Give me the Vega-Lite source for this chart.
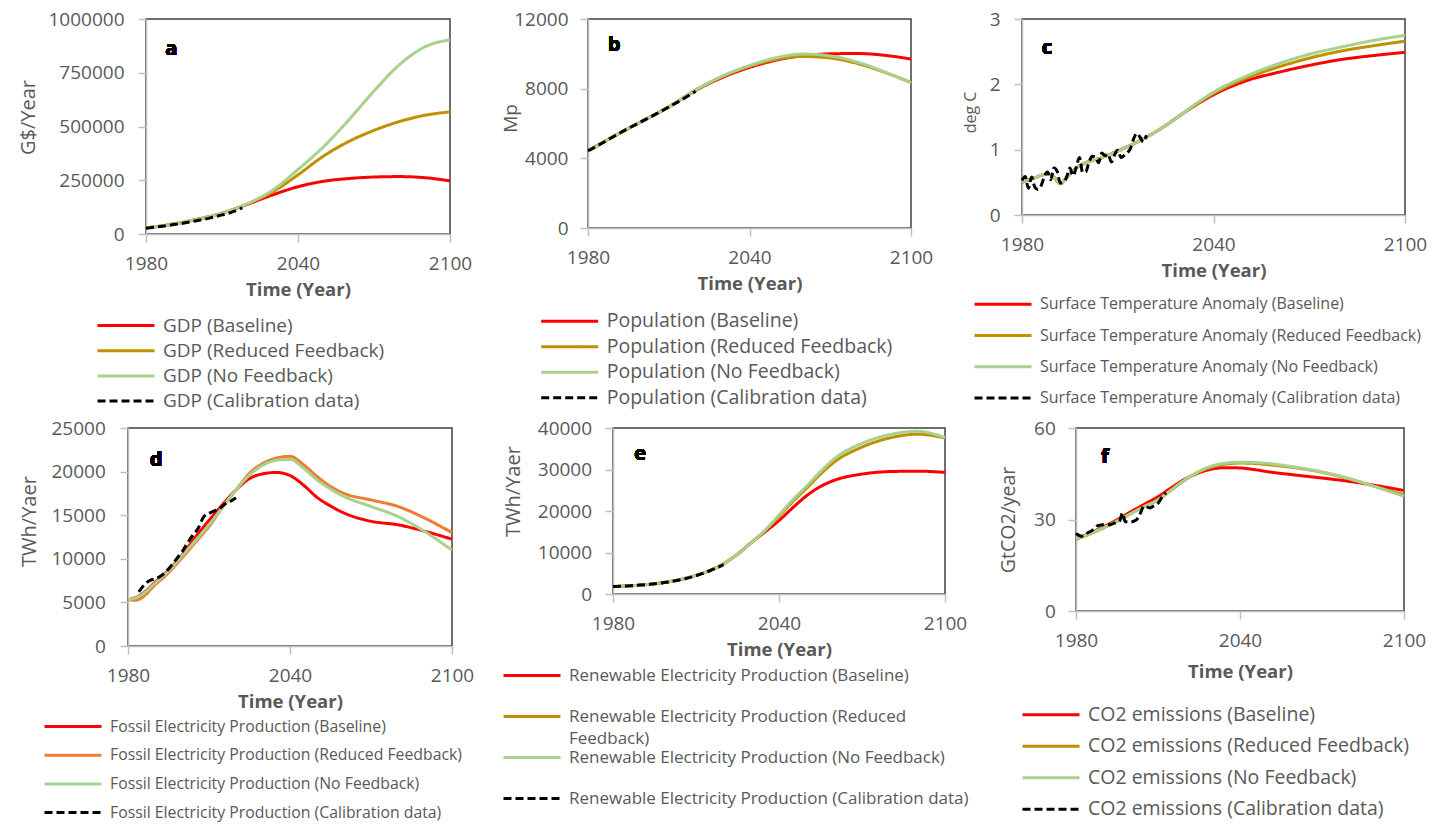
{
"$schema": "https://vega.github.io/schema/vega-lite/v6.json",
"padding": {"left": 17, "top": 9, "right": 5, "bottom": 5},
"background": "white",
"spacing": 5,
"config": {
 "font": "Open Sans",
 "view": {"stroke": "#404040", "strokeWidth": 1.5},
 "axis": {"labelFont": "Open Sans", "labelFontSize": 19, "labelColor": "#595959", "titleFont": "Open Sans", "titleColor": "#595959", "domainColor": "#bfbfbf", "domainWidth": 1.5, "tickColor": "#bfbfbf", "tickWidth": 1.5, "tickSize": 8, "grid": false, "labelFlush": false, "labelOverlap": false},
 "axisX": {"titleFontWeight": "bold", "titleFontSize": 18.5, "labelPadding": 12, "titlePadding": 7},
 "axisY": {"titleFontWeight": "normal"},
 "legend": {"orient": "none", "symbolType": "M-3,0H3", "symbolSize": 361, "symbolStrokeWidth": 3, "labelFont": "Open Sans", "labelColor": "#595959", "labelLimit": 600, "padding": 0, "labelOffset": 26}
},
"datasets": {
 "gdp": [
  {"s":"Baseline","year":1980,"v":28000},{"s":"Baseline","year":1990,"v":45000},{"s":"Baseline","year":2000,"v":68000},{"s":"Baseline","year":2010,"v":97000},{"s":"Baseline","year":2020,"v":138000},{"s":"Baseline","year":2030,"v":182000},{"s":"Baseline","year":2040,"v":220000},{"s":"Baseline","year":2050,"v":245000},{"s":"Baseline","year":2060,"v":258000},{"s":"Baseline","year":2070,"v":265000},{"s":"Baseline","year":2080,"v":267000},{"s":"Baseline","year":2090,"v":262000},{"s":"Baseline","year":2100,"v":247000},
  {"s":"Reduced Feedback","year":1980,"v":28000},{"s":"Reduced Feedback","year":1990,"v":45000},{"s":"Reduced Feedback","year":2000,"v":68000},{"s":"Reduced Feedback","year":2010,"v":97000},{"s":"Reduced Feedback","year":2020,"v":140000},{"s":"Reduced Feedback","year":2030,"v":196000},{"s":"Reduced Feedback","year":2040,"v":275000},{"s":"Reduced Feedback","year":2050,"v":362000},{"s":"Reduced Feedback","year":2060,"v":430000},{"s":"Reduced Feedback","year":2070,"v":482000},{"s":"Reduced Feedback","year":2080,"v":523000},{"s":"Reduced Feedback","year":2090,"v":552000},{"s":"Reduced Feedback","year":2100,"v":568000},
  {"s":"No Feedback","year":1980,"v":28000},{"s":"No Feedback","year":1990,"v":45000},{"s":"No Feedback","year":2000,"v":68000},{"s":"No Feedback","year":2010,"v":97000},{"s":"No Feedback","year":2020,"v":141000},{"s":"No Feedback","year":2030,"v":204000},{"s":"No Feedback","year":2040,"v":300000},{"s":"No Feedback","year":2050,"v":405000},{"s":"No Feedback","year":2060,"v":530000},{"s":"No Feedback","year":2070,"v":665000},{"s":"No Feedback","year":2080,"v":787000},{"s":"No Feedback","year":2090,"v":870000},{"s":"No Feedback","year":2100,"v":903000},
  {"s":"Calibration data","year":1980,"v":27000},{"s":"Calibration data","year":1985,"v":34000},{"s":"Calibration data","year":1990,"v":42000},{"s":"Calibration data","year":1995,"v":51000},{"s":"Calibration data","year":2000,"v":62000},{"s":"Calibration data","year":2005,"v":74000},{"s":"Calibration data","year":2010,"v":89000},{"s":"Calibration data","year":2015,"v":106000},{"s":"Calibration data","year":2018,"v":122000}
 ],
 "pop": [
  {"s":"Baseline","year":1980,"v":4430},{"s":"Baseline","year":1990,"v":5300},{"s":"Baseline","year":2000,"v":6120},{"s":"Baseline","year":2010,"v":6950},{"s":"Baseline","year":2020,"v":7900},{"s":"Baseline","year":2030,"v":8650},{"s":"Baseline","year":2040,"v":9220},{"s":"Baseline","year":2050,"v":9640},{"s":"Baseline","year":2060,"v":9900},{"s":"Baseline","year":2070,"v":10000},{"s":"Baseline","year":2080,"v":10020},{"s":"Baseline","year":2090,"v":9920},{"s":"Baseline","year":2100,"v":9700},
  {"s":"Reduced Feedback","year":1980,"v":4430},{"s":"Reduced Feedback","year":1990,"v":5300},{"s":"Reduced Feedback","year":2000,"v":6120},{"s":"Reduced Feedback","year":2010,"v":6950},{"s":"Reduced Feedback","year":2020,"v":7920},{"s":"Reduced Feedback","year":2030,"v":8700},{"s":"Reduced Feedback","year":2040,"v":9280},{"s":"Reduced Feedback","year":2050,"v":9680},{"s":"Reduced Feedback","year":2060,"v":9850},{"s":"Reduced Feedback","year":2070,"v":9760},{"s":"Reduced Feedback","year":2080,"v":9450},{"s":"Reduced Feedback","year":2090,"v":8950},{"s":"Reduced Feedback","year":2100,"v":8350},
  {"s":"No Feedback","year":1980,"v":4430},{"s":"No Feedback","year":1990,"v":5300},{"s":"No Feedback","year":2000,"v":6120},{"s":"No Feedback","year":2010,"v":6950},{"s":"No Feedback","year":2020,"v":7930},{"s":"No Feedback","year":2030,"v":8730},{"s":"No Feedback","year":2040,"v":9330},{"s":"No Feedback","year":2050,"v":9780},{"s":"No Feedback","year":2060,"v":9990},{"s":"No Feedback","year":2070,"v":9880},{"s":"No Feedback","year":2080,"v":9530},{"s":"No Feedback","year":2090,"v":8970},{"s":"No Feedback","year":2100,"v":8330},
  {"s":"Calibration data","year":1980,"v":4430},{"s":"Calibration data","year":1985,"v":4850},{"s":"Calibration data","year":1990,"v":5300},{"s":"Calibration data","year":1995,"v":5720},{"s":"Calibration data","year":2000,"v":6120},{"s":"Calibration data","year":2005,"v":6520},{"s":"Calibration data","year":2010,"v":6950},{"s":"Calibration data","year":2015,"v":7380},{"s":"Calibration data","year":2020,"v":7850}
 ],
 "temp": [
  {"s":"Baseline","year":1980,"v":0.5},{"s":"Baseline","year":1984,"v":0.57},{"s":"Baseline","year":1988,"v":0.63},{"s":"Baseline","year":1990,"v":0.58},{"s":"Baseline","year":1992,"v":0.48},{"s":"Baseline","year":1994,"v":0.58},{"s":"Baseline","year":1997,"v":0.72},{"s":"Baseline","year":2000,"v":0.8},{"s":"Baseline","year":2005,"v":0.88},{"s":"Baseline","year":2010,"v":0.98},{"s":"Baseline","year":2015,"v":1.09},{"s":"Baseline","year":2020,"v":1.22},{"s":"Baseline","year":2025,"v":1.37},{"s":"Baseline","year":2030,"v":1.54},{"s":"Baseline","year":2035,"v":1.7},{"s":"Baseline","year":2040,"v":1.84},{"s":"Baseline","year":2050,"v":2.05},{"s":"Baseline","year":2060,"v":2.18},{"s":"Baseline","year":2070,"v":2.29},{"s":"Baseline","year":2080,"v":2.38},{"s":"Baseline","year":2090,"v":2.44},{"s":"Baseline","year":2100,"v":2.49},
  {"s":"Reduced Feedback","year":1980,"v":0.5},{"s":"Reduced Feedback","year":1984,"v":0.57},{"s":"Reduced Feedback","year":1988,"v":0.63},{"s":"Reduced Feedback","year":1990,"v":0.58},{"s":"Reduced Feedback","year":1992,"v":0.48},{"s":"Reduced Feedback","year":1994,"v":0.58},{"s":"Reduced Feedback","year":1997,"v":0.72},{"s":"Reduced Feedback","year":2000,"v":0.8},{"s":"Reduced Feedback","year":2005,"v":0.88},{"s":"Reduced Feedback","year":2010,"v":0.98},{"s":"Reduced Feedback","year":2015,"v":1.09},{"s":"Reduced Feedback","year":2020,"v":1.22},{"s":"Reduced Feedback","year":2025,"v":1.37},{"s":"Reduced Feedback","year":2030,"v":1.54},{"s":"Reduced Feedback","year":2035,"v":1.71},{"s":"Reduced Feedback","year":2040,"v":1.86},{"s":"Reduced Feedback","year":2050,"v":2.09},{"s":"Reduced Feedback","year":2060,"v":2.26},{"s":"Reduced Feedback","year":2070,"v":2.4},{"s":"Reduced Feedback","year":2080,"v":2.51},{"s":"Reduced Feedback","year":2090,"v":2.59},{"s":"Reduced Feedback","year":2100,"v":2.66},
  {"s":"No Feedback","year":1980,"v":0.5},{"s":"No Feedback","year":1984,"v":0.57},{"s":"No Feedback","year":1988,"v":0.63},{"s":"No Feedback","year":1990,"v":0.58},{"s":"No Feedback","year":1992,"v":0.48},{"s":"No Feedback","year":1994,"v":0.58},{"s":"No Feedback","year":1997,"v":0.72},{"s":"No Feedback","year":2000,"v":0.8},{"s":"No Feedback","year":2005,"v":0.88},{"s":"No Feedback","year":2010,"v":0.98},{"s":"No Feedback","year":2015,"v":1.09},{"s":"No Feedback","year":2020,"v":1.22},{"s":"No Feedback","year":2025,"v":1.37},{"s":"No Feedback","year":2030,"v":1.54},{"s":"No Feedback","year":2035,"v":1.72},{"s":"No Feedback","year":2040,"v":1.88},{"s":"No Feedback","year":2050,"v":2.12},{"s":"No Feedback","year":2060,"v":2.31},{"s":"No Feedback","year":2070,"v":2.46},{"s":"No Feedback","year":2080,"v":2.57},{"s":"No Feedback","year":2090,"v":2.67},{"s":"No Feedback","year":2100,"v":2.75},
  {"s":"Calibration data","year":1980,"v":0.53},{"s":"Calibration data","year":1981,"v":0.59},{"s":"Calibration data","year":1982,"v":0.41},{"s":"Calibration data","year":1983,"v":0.58},{"s":"Calibration data","year":1984,"v":0.43},{"s":"Calibration data","year":1985,"v":0.39},{"s":"Calibration data","year":1986,"v":0.45},{"s":"Calibration data","year":1987,"v":0.59},{"s":"Calibration data","year":1988,"v":0.66},{"s":"Calibration data","year":1989,"v":0.54},{"s":"Calibration data","year":1990,"v":0.72},{"s":"Calibration data","year":1991,"v":0.67},{"s":"Calibration data","year":1992,"v":0.49},{"s":"Calibration data","year":1993,"v":0.5},{"s":"Calibration data","year":1994,"v":0.58},{"s":"Calibration data","year":1995,"v":0.72},{"s":"Calibration data","year":1996,"v":0.6},{"s":"Calibration data","year":1997,"v":0.73},{"s":"Calibration data","year":1998,"v":0.88},{"s":"Calibration data","year":1999,"v":0.65},{"s":"Calibration data","year":2000,"v":0.66},{"s":"Calibration data","year":2001,"v":0.81},{"s":"Calibration data","year":2002,"v":0.9},{"s":"Calibration data","year":2003,"v":0.89},{"s":"Calibration data","year":2004,"v":0.8},{"s":"Calibration data","year":2005,"v":0.95},{"s":"Calibration data","year":2006,"v":0.91},{"s":"Calibration data","year":2007,"v":0.93},{"s":"Calibration data","year":2008,"v":0.81},{"s":"Calibration data","year":2009,"v":0.92},{"s":"Calibration data","year":2010,"v":0.99},{"s":"Calibration data","year":2011,"v":0.88},{"s":"Calibration data","year":2012,"v":0.91},{"s":"Calibration data","year":2013,"v":0.95},{"s":"Calibration data","year":2014,"v":1.02},{"s":"Calibration data","year":2015,"v":1.17},{"s":"Calibration data","year":2016,"v":1.25},{"s":"Calibration data","year":2017,"v":1.19},{"s":"Calibration data","year":2018,"v":1.12},{"s":"Calibration data","year":2019,"v":1.22}
 ],
 "fossil": [
  {"s":"Baseline","year":1980,"v":5300},{"s":"Baseline","year":1985,"v":5900},{"s":"Baseline","year":1990,"v":7300},{"s":"Baseline","year":1995,"v":8700},{"s":"Baseline","year":2000,"v":10400},{"s":"Baseline","year":2005,"v":12500},{"s":"Baseline","year":2010,"v":14400},{"s":"Baseline","year":2015,"v":16200},{"s":"Baseline","year":2020,"v":17900},{"s":"Baseline","year":2025,"v":19200},{"s":"Baseline","year":2030,"v":19750},{"s":"Baseline","year":2035,"v":19900},{"s":"Baseline","year":2040,"v":19550},{"s":"Baseline","year":2045,"v":18450},{"s":"Baseline","year":2050,"v":17050},{"s":"Baseline","year":2055,"v":16050},{"s":"Baseline","year":2060,"v":15250},{"s":"Baseline","year":2070,"v":14300},{"s":"Baseline","year":2080,"v":13900},{"s":"Baseline","year":2090,"v":13150},{"s":"Baseline","year":2100,"v":12250},
  {"s":"Reduced Feedback","year":1980,"v":5300},{"s":"Reduced Feedback","year":1983,"v":5250},{"s":"Reduced Feedback","year":1985,"v":5500},{"s":"Reduced Feedback","year":1990,"v":7000},{"s":"Reduced Feedback","year":1995,"v":8400},{"s":"Reduced Feedback","year":2000,"v":10100},{"s":"Reduced Feedback","year":2005,"v":11900},{"s":"Reduced Feedback","year":2010,"v":13700},{"s":"Reduced Feedback","year":2015,"v":15900},{"s":"Reduced Feedback","year":2020,"v":17900},{"s":"Reduced Feedback","year":2025,"v":19800},{"s":"Reduced Feedback","year":2030,"v":20950},{"s":"Reduced Feedback","year":2035,"v":21550},{"s":"Reduced Feedback","year":2040,"v":21750},{"s":"Reduced Feedback","year":2045,"v":20800},{"s":"Reduced Feedback","year":2050,"v":19450},{"s":"Reduced Feedback","year":2055,"v":18300},{"s":"Reduced Feedback","year":2060,"v":17500},{"s":"Reduced Feedback","year":2070,"v":16750},{"s":"Reduced Feedback","year":2080,"v":16000},{"s":"Reduced Feedback","year":2090,"v":14650},{"s":"Reduced Feedback","year":2100,"v":13000},
  {"s":"No Feedback","year":1980,"v":5300},{"s":"No Feedback","year":1985,"v":5850},{"s":"No Feedback","year":1990,"v":7200},{"s":"No Feedback","year":1995,"v":8600},{"s":"No Feedback","year":2000,"v":10300},{"s":"No Feedback","year":2005,"v":12100},{"s":"No Feedback","year":2010,"v":13900},{"s":"No Feedback","year":2015,"v":15900},{"s":"No Feedback","year":2020,"v":17900},{"s":"No Feedback","year":2025,"v":19600},{"s":"No Feedback","year":2030,"v":20750},{"s":"No Feedback","year":2035,"v":21300},{"s":"No Feedback","year":2040,"v":21400},{"s":"No Feedback","year":2045,"v":20400},{"s":"No Feedback","year":2050,"v":19050},{"s":"No Feedback","year":2055,"v":18000},{"s":"No Feedback","year":2060,"v":17150},{"s":"No Feedback","year":2070,"v":16000},{"s":"No Feedback","year":2080,"v":14850},{"s":"No Feedback","year":2090,"v":13100},{"s":"No Feedback","year":2100,"v":11000},
  {"s":"Calibration data","year":1984,"v":6200},{"s":"Calibration data","year":1986,"v":7000},{"s":"Calibration data","year":1988,"v":7500},{"s":"Calibration data","year":1990,"v":7700},{"s":"Calibration data","year":1992,"v":8000},{"s":"Calibration data","year":1994,"v":8500},{"s":"Calibration data","year":1996,"v":9200},{"s":"Calibration data","year":1998,"v":10000},{"s":"Calibration data","year":2000,"v":10800},{"s":"Calibration data","year":2002,"v":11800},{"s":"Calibration data","year":2004,"v":12700},{"s":"Calibration data","year":2006,"v":13500},{"s":"Calibration data","year":2008,"v":14800},{"s":"Calibration data","year":2010,"v":15200},{"s":"Calibration data","year":2012,"v":15500},{"s":"Calibration data","year":2014,"v":15800},{"s":"Calibration data","year":2016,"v":16300},{"s":"Calibration data","year":2018,"v":16600},{"s":"Calibration data","year":2020,"v":17000}
 ],
 "renew": [
  {"s":"Baseline","year":1980,"v":1800},{"s":"Baseline","year":1990,"v":2150},{"s":"Baseline","year":2000,"v":2950},{"s":"Baseline","year":2010,"v":4500},{"s":"Baseline","year":2020,"v":7300},{"s":"Baseline","year":2025,"v":9600},{"s":"Baseline","year":2030,"v":12400},{"s":"Baseline","year":2035,"v":15000},{"s":"Baseline","year":2040,"v":17700},{"s":"Baseline","year":2045,"v":20800},{"s":"Baseline","year":2050,"v":23700},{"s":"Baseline","year":2055,"v":25900},{"s":"Baseline","year":2060,"v":27400},{"s":"Baseline","year":2070,"v":28900},{"s":"Baseline","year":2080,"v":29500},{"s":"Baseline","year":2090,"v":29600},{"s":"Baseline","year":2100,"v":29300},
  {"s":"Reduced Feedback","year":1980,"v":1800},{"s":"Reduced Feedback","year":1990,"v":2150},{"s":"Reduced Feedback","year":2000,"v":2950},{"s":"Reduced Feedback","year":2010,"v":4500},{"s":"Reduced Feedback","year":2020,"v":7300},{"s":"Reduced Feedback","year":2025,"v":9600},{"s":"Reduced Feedback","year":2030,"v":12400},{"s":"Reduced Feedback","year":2035,"v":15300},{"s":"Reduced Feedback","year":2040,"v":18700},{"s":"Reduced Feedback","year":2045,"v":22300},{"s":"Reduced Feedback","year":2050,"v":25500},{"s":"Reduced Feedback","year":2055,"v":28900},{"s":"Reduced Feedback","year":2060,"v":31800},{"s":"Reduced Feedback","year":2070,"v":35400},{"s":"Reduced Feedback","year":2080,"v":37600},{"s":"Reduced Feedback","year":2090,"v":38500},{"s":"Reduced Feedback","year":2100,"v":37600},
  {"s":"No Feedback","year":1980,"v":1800},{"s":"No Feedback","year":1990,"v":2150},{"s":"No Feedback","year":2000,"v":2950},{"s":"No Feedback","year":2010,"v":4500},{"s":"No Feedback","year":2020,"v":7300},{"s":"No Feedback","year":2025,"v":9600},{"s":"No Feedback","year":2030,"v":12400},{"s":"No Feedback","year":2035,"v":15400},{"s":"No Feedback","year":2040,"v":19000},{"s":"No Feedback","year":2045,"v":22700},{"s":"No Feedback","year":2050,"v":26000},{"s":"No Feedback","year":2055,"v":29500},{"s":"No Feedback","year":2060,"v":32600},{"s":"No Feedback","year":2070,"v":36300},{"s":"No Feedback","year":2080,"v":38400},{"s":"No Feedback","year":2090,"v":39200},{"s":"No Feedback","year":2100,"v":37700},
  {"s":"Calibration data","year":1980,"v":1800},{"s":"Calibration data","year":1985,"v":1950},{"s":"Calibration data","year":1990,"v":2150},{"s":"Calibration data","year":1995,"v":2450},{"s":"Calibration data","year":2000,"v":2900},{"s":"Calibration data","year":2005,"v":3500},{"s":"Calibration data","year":2010,"v":4400},{"s":"Calibration data","year":2015,"v":5600},{"s":"Calibration data","year":2020,"v":7100}
 ],
 "co2": [
  {"s":"Baseline","year":1980,"v":23.7},{"s":"Baseline","year":1985,"v":25.5},{"s":"Baseline","year":1990,"v":27.6},{"s":"Baseline","year":1995,"v":29.9},{"s":"Baseline","year":2000,"v":32.5},{"s":"Baseline","year":2005,"v":35.0},{"s":"Baseline","year":2010,"v":37.5},{"s":"Baseline","year":2015,"v":40.5},{"s":"Baseline","year":2020,"v":43.3},{"s":"Baseline","year":2025,"v":45.3},{"s":"Baseline","year":2030,"v":46.6},{"s":"Baseline","year":2035,"v":47.0},{"s":"Baseline","year":2040,"v":46.9},{"s":"Baseline","year":2045,"v":46.4},{"s":"Baseline","year":2050,"v":45.7},{"s":"Baseline","year":2060,"v":44.6},{"s":"Baseline","year":2070,"v":43.6},{"s":"Baseline","year":2080,"v":42.5},{"s":"Baseline","year":2090,"v":41.1},{"s":"Baseline","year":2100,"v":39.5},
  {"s":"Reduced Feedback","year":1980,"v":23.5},{"s":"Reduced Feedback","year":1985,"v":25.2},{"s":"Reduced Feedback","year":1990,"v":27.2},{"s":"Reduced Feedback","year":1995,"v":29.4},{"s":"Reduced Feedback","year":2000,"v":31.9},{"s":"Reduced Feedback","year":2005,"v":34.3},{"s":"Reduced Feedback","year":2010,"v":36.5},{"s":"Reduced Feedback","year":2015,"v":39.8},{"s":"Reduced Feedback","year":2020,"v":43.0},{"s":"Reduced Feedback","year":2025,"v":45.6},{"s":"Reduced Feedback","year":2030,"v":47.3},{"s":"Reduced Feedback","year":2035,"v":48.2},{"s":"Reduced Feedback","year":2040,"v":48.5},{"s":"Reduced Feedback","year":2045,"v":48.4},{"s":"Reduced Feedback","year":2050,"v":48.0},{"s":"Reduced Feedback","year":2060,"v":47.0},{"s":"Reduced Feedback","year":2070,"v":45.5},{"s":"Reduced Feedback","year":2080,"v":43.3},{"s":"Reduced Feedback","year":2090,"v":40.7},{"s":"Reduced Feedback","year":2100,"v":38.1},
  {"s":"No Feedback","year":1980,"v":23.7},{"s":"No Feedback","year":1985,"v":25.3},{"s":"No Feedback","year":1990,"v":27.3},{"s":"No Feedback","year":1995,"v":29.5},{"s":"No Feedback","year":2000,"v":31.9},{"s":"No Feedback","year":2005,"v":34.2},{"s":"No Feedback","year":2010,"v":36.4},{"s":"No Feedback","year":2015,"v":39.8},{"s":"No Feedback","year":2020,"v":43.1},{"s":"No Feedback","year":2025,"v":45.8},{"s":"No Feedback","year":2030,"v":47.6},{"s":"No Feedback","year":2035,"v":48.5},{"s":"No Feedback","year":2040,"v":48.8},{"s":"No Feedback","year":2045,"v":48.7},{"s":"No Feedback","year":2050,"v":48.4},{"s":"No Feedback","year":2060,"v":47.2},{"s":"No Feedback","year":2070,"v":45.6},{"s":"No Feedback","year":2080,"v":43.4},{"s":"No Feedback","year":2090,"v":40.6},{"s":"No Feedback","year":2100,"v":37.6},
  {"s":"Calibration data","year":1980,"v":25.4},{"s":"Calibration data","year":1982,"v":24.5},{"s":"Calibration data","year":1984,"v":25.5},{"s":"Calibration data","year":1986,"v":26.5},{"s":"Calibration data","year":1988,"v":28.0},{"s":"Calibration data","year":1990,"v":28.3},{"s":"Calibration data","year":1992,"v":28.3},{"s":"Calibration data","year":1994,"v":28.8},{"s":"Calibration data","year":1996,"v":29.6},{"s":"Calibration data","year":1997,"v":32.1},{"s":"Calibration data","year":1998,"v":29.3},{"s":"Calibration data","year":2000,"v":29.2},{"s":"Calibration data","year":2002,"v":29.8},{"s":"Calibration data","year":2003,"v":31.0},{"s":"Calibration data","year":2005,"v":34.4},{"s":"Calibration data","year":2007,"v":33.8},{"s":"Calibration data","year":2008,"v":34.2},{"s":"Calibration data","year":2010,"v":35.3},{"s":"Calibration data","year":2012,"v":38.0},{"s":"Calibration data","year":2013,"v":38.7}
 ]
},
"resolve": {"scale": {"color": "independent", "strokeDash": "independent"}, "legend": {"color": "independent", "strokeDash": "independent"}},
"vconcat": [
 {"spacing": 0,
  "resolve": {"scale": {"color": "independent", "strokeDash": "independent"}, "legend": {"color": "independent", "strokeDash": "independent"}},
  "hconcat": [
   {"width": 1, "height": 1, "view": {"stroke": null}, "data": {"values": []}, "mark": "point"},
   {"spacing": 27,
    "resolve": {"scale": {"color": "independent", "strokeDash": "independent"}, "legend": {"color": "independent", "strokeDash": "independent"}},
    "hconcat": [
    {"width": 304, "height": 215, "data": {"name": "gdp"},
     "layer": [
      {"mark": {"type": "line", "interpolate": "monotone", "strokeWidth": 3},
       "encoding": {
        "x": {"field": "year", "type": "quantitative", "scale": {"domain": [1980, 2100], "nice": false, "zero": false}, "axis": {"title": "Time (Year)", "values": [1980, 2040, 2100], "format": "d"}},
        "y": {"field": "v", "type": "quantitative", "scale": {"domain": [0, 1000000], "nice": false}, "axis": {"title": "G$/Year", "values": [0, 250000, 500000, 750000, 1000000], "format": "d", "titleFontSize": 20, "labelPadding": 14, "titlePadding": 9, "titleY": 98}},
        "color": {"field": "s", "type": "nominal", "scale": {"domain": ["Baseline", "Reduced Feedback", "No Feedback", "Calibration data"], "range": ["#ff0000", "#bf9000", "#a9d18e", "#000000"]}, "legend": {"title": null, "legendX": -31, "legendY": 295.5, "labelFontSize": 19, "rowPadding": 4.2, "labelExpr": "'GDP (' + datum.label + ')'"}},
        "strokeDash": {"field": "s", "type": "nominal", "scale": {"domain": ["Baseline", "Reduced Feedback", "No Feedback", "Calibration data"], "range": [[1, 0], [1, 0], [1, 0], [8, 4]]}, "legend": {"title": null, "legendX": -31, "legendY": 295.5, "labelFontSize": 19, "rowPadding": 4.2, "labelExpr": "'GDP (' + datum.label + ')'"}}
       }},
      {"mark": {"type": "text", "text": "a", "fontSize": 20, "fontWeight": "bold", "color": "#000000", "font": "Open Sans"},
       "encoding": {"x": {"datum": 1990}, "y": {"datum": 860000}}}
     ]},
    {"width": 323, "height": 209, "data": {"name": "pop"},
     "layer": [
      {"mark": {"type": "line", "interpolate": "monotone", "strokeWidth": 3},
       "encoding": {
        "x": {"field": "year", "type": "quantitative", "scale": {"domain": [1980, 2100], "nice": false, "zero": false}, "axis": {"title": "Time (Year)", "values": [1980, 2040, 2100], "format": "d"}},
        "y": {"field": "v", "type": "quantitative", "scale": {"domain": [0, 12000], "nice": false}, "axis": {"title": "Mp", "values": [0, 4000, 8000, 12000], "format": "d", "titleFontSize": 19, "labelPadding": 12, "titlePadding": -6.5, "titleY": 99}},
        "color": {"field": "s", "type": "nominal", "scale": {"domain": ["Baseline", "Reduced Feedback", "No Feedback", "Calibration data"], "range": ["#ff0000", "#bf9000", "#a9d18e", "#000000"]}, "legend": {"title": null, "legendX": -29.3, "legendY": 291.2, "labelFontSize": 19.5, "rowPadding": 4.5, "labelExpr": "'Population (' + datum.label + ')'"}},
        "strokeDash": {"field": "s", "type": "nominal", "scale": {"domain": ["Baseline", "Reduced Feedback", "No Feedback", "Calibration data"], "range": [[1, 0], [1, 0], [1, 0], [8, 4]]}, "legend": {"title": null, "legendX": -29.3, "legendY": 291.2, "labelFontSize": 19.5, "rowPadding": 4.5, "labelExpr": "'Population (' + datum.label + ')'"}}
       }},
      {"mark": {"type": "text", "text": "b", "fontSize": 20, "fontWeight": "bold", "color": "#000000", "font": "Open Sans"},
       "encoding": {"x": {"datum": 1989.7}, "y": {"datum": 10500}}}
     ]},
    {"width": 383, "height": 196, "data": {"name": "temp"},
     "layer": [
      {"mark": {"type": "line", "interpolate": "monotone", "strokeWidth": 3},
       "encoding": {
        "x": {"field": "year", "type": "quantitative", "scale": {"domain": [1980, 2100], "nice": false, "zero": false}, "axis": {"title": "Time (Year)", "values": [1980, 2040, 2100], "format": "d"}},
        "y": {"field": "v", "type": "quantitative", "scale": {"domain": [0, 3], "nice": false}, "axis": {"title": "deg C", "values": [0, 1, 2, 3], "format": "d", "titleFontSize": 16, "labelPadding": 14, "titlePadding": 10.4, "titleY": 93}},
        "color": {"field": "s", "type": "nominal", "scale": {"domain": ["Baseline", "Reduced Feedback", "No Feedback", "Calibration data"], "range": ["#ff0000", "#bf9000", "#a9d18e", "#000000"]}, "legend": {"title": null, "legendX": -30, "legendY": 274.2, "labelFontSize": 16, "rowPadding": 12.3, "labelExpr": "'Surface Temperature Anomaly (' + datum.label + ')'"}},
        "strokeDash": {"field": "s", "type": "nominal", "scale": {"domain": ["Baseline", "Reduced Feedback", "No Feedback", "Calibration data"], "range": [[1, 0], [1, 0], [1, 0], [8, 4]]}, "legend": {"title": null, "legendX": -30, "legendY": 274.2, "labelFontSize": 16, "rowPadding": 12.3, "labelExpr": "'Surface Temperature Anomaly (' + datum.label + ')'"}}
       }},
      {"mark": {"type": "text", "text": "c", "fontSize": 20, "fontWeight": "bold", "color": "#000000", "font": "Open Sans"},
       "encoding": {"x": {"datum": 1987.8}, "y": {"datum": 2.56}}}
     ]}
   ]}
  ]},
 {"spacing": 0,
  "resolve": {"scale": {"color": "independent", "strokeDash": "independent"}, "legend": {"color": "independent", "strokeDash": "independent"}},
  "hconcat": [
   {"width": 1, "height": 1, "view": {"stroke": null}, "data": {"values": []}, "mark": "point"},
   {"spacing": 27,
    "resolve": {"scale": {"color": "independent", "strokeDash": "independent"}, "legend": {"color": "independent", "strokeDash": "independent"}},
    "hconcat": [
    {"width": 324, "height": 218, "data": {"name": "fossil"},
     "layer": [
      {"mark": {"type": "line", "interpolate": "monotone", "strokeWidth": 3},
       "encoding": {
        "x": {"field": "year", "type": "quantitative", "scale": {"domain": [1980, 2100], "nice": false, "zero": false}, "axis": {"title": "Time (Year)", "values": [1980, 2040, 2100], "format": "d"}},
        "y": {"field": "v", "type": "quantitative", "scale": {"domain": [0, 25000], "nice": false}, "axis": {"title": "TWh/Yaer", "values": [0, 5000, 10000, 15000, 20000, 25000], "format": "d", "titleFontSize": 20, "labelPadding": 14.7, "titlePadding": 11.5, "titleY": 93}},
        "color": {"field": "s", "type": "nominal", "scale": {"domain": ["Baseline", "Reduced Feedback", "No Feedback", "Calibration data"], "range": ["#ff0000", "#ed7d31", "#a9d18e", "#000000"]}, "legend": {"title": null, "legendX": -66, "legendY": 287.5, "labelFontSize": 15.8, "rowPadding": 9.7, "labelExpr": "'Fossil Electricity Production (' + datum.label + ')'"}},
        "strokeDash": {"field": "s", "type": "nominal", "scale": {"domain": ["Baseline", "Reduced Feedback", "No Feedback", "Calibration data"], "range": [[1, 0], [1, 0], [1, 0], [8, 4]]}, "legend": {"title": null, "legendX": -66, "legendY": 287.5, "labelFontSize": 15.8, "rowPadding": 9.7, "labelExpr": "'Fossil Electricity Production (' + datum.label + ')'"}}
       }},
      {"mark": {"type": "text", "text": "d", "fontSize": 20, "fontWeight": "bold", "color": "#000000", "font": "Open Sans"},
       "encoding": {"x": {"datum": 1990.4}, "y": {"datum": 21330}}}
     ]},
    {"width": 332, "height": 166, "data": {"name": "renew"},
     "layer": [
      {"mark": {"type": "line", "interpolate": "monotone", "strokeWidth": 3},
       "encoding": {
        "x": {"field": "year", "type": "quantitative", "scale": {"domain": [1980, 2100], "nice": false, "zero": false}, "axis": {"title": "Time (Year)", "values": [1980, 2040, 2100], "format": "d"}},
        "y": {"field": "v", "type": "quantitative", "scale": {"domain": [0, 40000], "nice": false}, "axis": {"title": "TWh/Yaer", "values": [0, 10000, 20000, 30000, 40000], "format": "d", "titleFontSize": 20, "labelPadding": 13.4, "titlePadding": 14.1, "titleY": 63}},
        "color": {"field": "s", "type": "nominal", "scale": {"domain": ["Baseline", "Reduced Feedback", "No Feedback", "Calibration data"], "range": ["#ff0000", "#bf9000", "#a9d18e", "#000000"]}, "legend": {"title": null, "legendX": -92, "legendY": 236.5, "labelFontSize": 17, "rowPadding": 0, "labelExpr": "datum.label == 'Reduced Feedback' ? ['Renewable Electricity Production (Reduced', 'Feedback)'] : ['Renewable Electricity Production (' + datum.label + ')', '']", "encode": {"labels": {"update": {"lineHeight": {"value": 22}}}}}},
        "strokeDash": {"field": "s", "type": "nominal", "scale": {"domain": ["Baseline", "Reduced Feedback", "No Feedback", "Calibration data"], "range": [[1, 0], [1, 0], [1, 0], [8, 4]]}, "legend": {"title": null, "legendX": -92, "legendY": 236.5, "labelFontSize": 17, "rowPadding": 0, "labelExpr": "datum.label == 'Reduced Feedback' ? ['Renewable Electricity Production (Reduced', 'Feedback)'] : ['Renewable Electricity Production (' + datum.label + ')', '']", "encode": {"labels": {"update": {"lineHeight": {"value": 22}}}}}}
       }},
      {"mark": {"type": "text", "text": "e", "fontSize": 20, "fontWeight": "bold", "color": "#000000", "font": "Open Sans"},
       "encoding": {"x": {"datum": 1989.8}, "y": {"datum": 33700}}}
     ]},
    {"width": 328, "height": 183, "data": {"name": "co2"},
     "layer": [
      {"mark": {"type": "line", "interpolate": "monotone", "strokeWidth": 3},
       "encoding": {
        "x": {"field": "year", "type": "quantitative", "scale": {"domain": [1980, 2100], "nice": false, "zero": false}, "axis": {"title": "Time (Year)", "values": [1980, 2040, 2100], "format": "d", "titlePadding": 12}},
        "y": {"field": "v", "type": "quantitative", "scale": {"domain": [0, 60], "nice": false}, "axis": {"title": "GtCO2/year", "values": [0, 30, 60], "format": "d", "titleFontSize": 19.5, "labelPadding": 12.7, "titlePadding": 15}},
        "color": {"field": "s", "type": "nominal", "scale": {"domain": ["Baseline", "Reduced Feedback", "No Feedback", "Calibration data"], "range": ["#ff0000", "#bf9000", "#a9d18e", "#000000"]}, "legend": {"title": null, "legendX": -36, "legendY": 275.8, "labelFontSize": 19.5, "rowPadding": 10.5, "labelExpr": "'CO2 emissions (' + datum.label + ')'"}},
        "strokeDash": {"field": "s", "type": "nominal", "scale": {"domain": ["Baseline", "Reduced Feedback", "No Feedback", "Calibration data"], "range": [[1, 0], [1, 0], [1, 0], [8, 4]]}, "legend": {"title": null, "legendX": -36, "legendY": 275.8, "labelFontSize": 19.5, "rowPadding": 10.5, "labelExpr": "'CO2 emissions (' + datum.label + ')'"}}
       }},
      {"mark": {"type": "text", "text": "f", "fontSize": 20, "fontWeight": "bold", "color": "#000000", "font": "Open Sans"},
       "encoding": {"x": {"datum": 1990.6}, "y": {"datum": 50.5}}}
     ]}
   ]}
  ]}
]
}
